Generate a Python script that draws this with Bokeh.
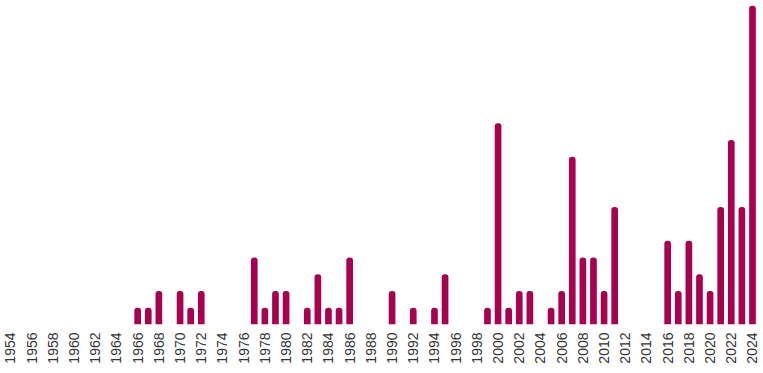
import math
from bokeh.plotting import figure
from bokeh.models import Range1d, FixedTicker, ColumnDataSource
from bokeh.embed import file_html
from bokeh.resources import INLINE

# Data
years = [1966, 1967, 1968, 1970, 1971, 1972, 1977, 1978, 1979, 1980,
         1982, 1983, 1984, 1985, 1986, 1990, 1992, 1994, 1995, 1999,
         2000, 2001, 2002, 2003, 2005, 2006, 2007, 2008, 2009, 2010,
         2011, 2016, 2017, 2018, 2019, 2020, 2021, 2022, 2023, 2024]
counts = [1, 1, 2, 2, 1, 2, 4, 1, 2, 2,
          1, 3, 1, 1, 4, 2, 1, 1, 3, 1,
          12, 1, 2, 2, 1, 2, 10, 4, 4, 2,
          7, 5, 2, 5, 3, 2, 7, 11, 7, 19]
tick_years = list(range(1954, 2025, 2))

BAR_COLOR = "#A6004F"

source = ColumnDataSource(data=dict(year=years, count=counts))

p = figure(width=763, height=366, output_backend="svg", toolbar_location=None,
           x_range=Range1d(1953.06, 2025.04), y_range=Range1d(0, 19.32),
           min_border_left=0, min_border_right=0, min_border_top=0, min_border_bottom=0,
           outline_line_color=None)

p.vbar(x="year", top="count", width=0.63, bottom=0, source=source,
       fill_color=BAR_COLOR, line_color=None, border_radius=(3, 3, 0, 0))

p.xgrid.visible = False
p.ygrid.visible = False
p.yaxis.visible = False

ax = p.xaxis[0]
ax.ticker = FixedTicker(ticks=tick_years)
ax.axis_line_color = None
ax.major_tick_line_color = None
ax.minor_tick_line_color = None
ax.major_tick_in = 0
ax.major_tick_out = 0
ax.major_label_standoff = 8
ax.major_label_orientation = math.pi / 2
ax.major_label_text_font = "Liberation Sans"
ax.major_label_text_font_size = "14px"
ax.major_label_text_color = "#333333"

open("out.html", "w").write(file_html(p, INLINE))
